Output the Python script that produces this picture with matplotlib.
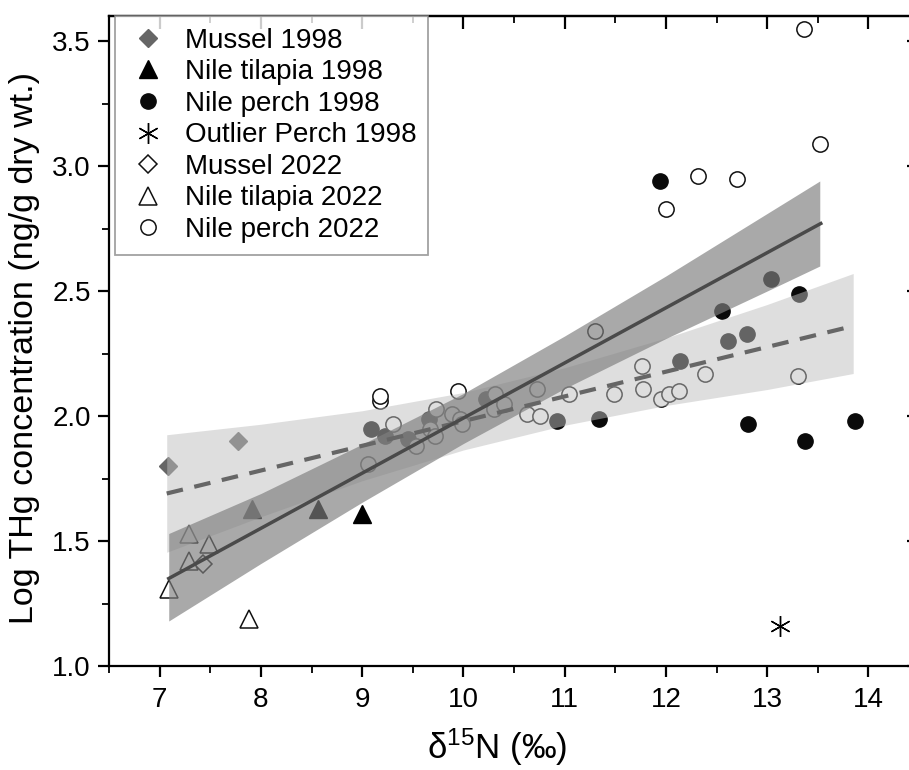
import matplotlib
matplotlib.use("Agg")
import matplotlib.pyplot as plt
from matplotlib.ticker import MultipleLocator

plt.rcParams['font.family'] = ['Liberation Sans', 'DejaVu Sans']
plt.rcParams['mathtext.fontset'] = 'custom'
plt.rcParams['mathtext.rm'] = 'Liberation Sans'
plt.rcParams['mathtext.it'] = 'Liberation Sans:italic'

# --- 1998 samples ---
mussel98_n = [7.08, 7.77]
mussel98_hg = [1.80, 1.90]
tilapia98_n = [7.91, 8.56, 9.00]
tilapia98_hg = [1.63, 1.63, 1.61]
perch98_n = [9.09, 9.23, 9.45, 9.66, 10.22, 10.92, 11.34, 11.94, 12.14, 12.55,
             12.61, 12.80, 13.04, 13.31, 12.81, 13.37, 13.87]
perch98_hg = [1.95, 1.92, 1.91, 1.99, 2.07, 1.98, 1.99, 2.94, 2.22, 2.42,
              2.30, 2.33, 2.55, 2.49, 1.97, 1.90, 1.98]
outlier98_n = [13.13]
outlier98_hg = [1.16]

# --- 2022 samples ---
mussel22_n = [7.43]
mussel22_hg = [1.41]
tilapia22_n = [7.09, 7.29, 7.29, 7.49, 7.88]
tilapia22_hg = [1.31, 1.53, 1.42, 1.49, 1.19]
perch22_n = [9.06, 9.18, 9.18, 9.30, 9.53, 9.67, 9.72, 9.73, 9.89, 9.97, 9.99,
             9.95, 10.30, 10.31, 10.40, 10.63, 10.73, 10.76, 11.04, 11.30, 11.49,
             11.76, 11.77, 11.95, 12.03, 12.13, 12.00, 12.32, 12.39, 12.70, 13.30,
             13.36, 13.52]
perch22_hg = [1.81, 2.06, 2.08, 1.97, 1.88, 1.95, 1.92, 2.03, 2.01, 1.99, 1.97,
              2.10, 2.03, 2.09, 2.05, 2.01, 2.11, 2.00, 2.09, 2.34, 2.09,
              2.20, 2.11, 2.07, 2.09, 2.10, 2.83, 2.96, 2.17, 2.95, 2.16,
              3.55, 3.09]

# --- fitted lines and 95% confidence bands ---
fit22_n = [7.09, 13.53]
fit22_hg = [1.35, 2.77]
band22_n = [7.09, 8, 9, 10, 11, 12, 13, 13.52]
band22_lo = [1.18, 1.41, 1.655, 1.89, 2.11, 2.31, 2.50, 2.60]
band22_hi = [1.53, 1.69, 1.887, 2.09, 2.32, 2.56, 2.81, 2.94]

fit98_n = [7.07, 13.85]
fit98_hg = [1.69, 2.36]
band98_n = [7.07, 8, 9, 10, 11, 12, 13, 13.85]
band98_lo = [1.455, 1.597, 1.741, 1.864, 1.963, 2.042, 2.106, 2.17]
band98_hi = [1.925, 1.967, 2.021, 2.094, 2.193, 2.312, 2.446, 2.57]

fig = plt.figure(figsize=(9.09, 7.70), dpi=100)
ax = fig.add_axes([109 / 909, 104 / 770, 810 / 909, 650 / 770])

ms_circle = 11
ms_tri = 12.5
ms_dia = 9.2
ew = 1.1

ax.plot(mussel98_n, mussel98_hg, 'D', ms=ms_dia, color='#666666', mec='#666666',
        ls='none', label='Mussel 1998', zorder=2)
ax.plot(tilapia98_n, tilapia98_hg, '^', ms=ms_tri, color='black', mec='black',
        ls='none', label='Nile tilapia 1998', zorder=2)
ax.plot(perch98_n, perch98_hg, 'o', ms=ms_circle, color='#0a0a0a', mec='#0a0a0a',
        ls='none', label='Nile perch 1998', zorder=2)
ax.plot(outlier98_n, outlier98_hg, marker=(6, 2, 0), ms=15, color='black', mew=1.0,
        ls='none', label='Outlier Perch 1998', zorder=2)
ax.plot(mussel22_n, mussel22_hg, 'D', ms=ms_dia, mfc='white', mec='#111111', mew=ew,
        ls='none', label='Mussel 2022', zorder=3)
ax.plot(tilapia22_n, tilapia22_hg, '^', ms=ms_tri, mfc='white', mec='#111111', mew=ew,
        ls='none', label='Nile tilapia 2022', zorder=3)
ax.plot(perch22_n, perch22_hg, 'o', ms=ms_circle, mfc='white', mec='#111111', mew=ew,
        ls='none', label='Nile perch 2022', zorder=3)

# confidence bands sit over the points, as translucent grey
ax.fill_between(band98_n, band98_lo, band98_hi, color='#bebebe', alpha=0.5,
                lw=0, zorder=4)
ax.fill_between(band22_n, band22_lo, band22_hi, color='#7f7f7f', alpha=0.67,
                lw=0, zorder=5)

ax.plot(fit98_n, fit98_hg, color='#666666', lw=3, dashes=(4.0, 2.8), zorder=6)
ax.plot(fit22_n, fit22_hg, color='#4a4a4a', lw=2.5, zorder=6)

ax.set_xlim(6.5, 14.5)
ax.set_ylim(1.0, 3.6)
ax.xaxis.set_major_locator(MultipleLocator(1))
ax.xaxis.set_minor_locator(MultipleLocator(0.5))
ax.yaxis.set_major_locator(MultipleLocator(0.5))
ax.yaxis.set_minor_locator(MultipleLocator(0.25))
ax.set_yticks([1.0, 1.5, 2.0, 2.5, 3.0, 3.5])
ax.set_xticks(range(7, 15))

for s in ax.spines.values():
    s.set_linewidth(1.6)
ax.tick_params(which='major', direction='out', length=8, width=1.6,
               labelsize=20, pad=5)
ax.tick_params(which='minor', direction='out', length=5, width=1.3)
ax.tick_params(axis='x', which='major', pad=7)

top = ax.secondary_xaxis('top')
top.xaxis.set_major_locator(MultipleLocator(1))
top.xaxis.set_minor_locator(MultipleLocator(0.5))
top.tick_params(which='major', direction='in', length=9, width=1.6, labeltop=False)
top.tick_params(which='minor', direction='in', length=5, width=1.3)
top.spines['top'].set_linewidth(1.6)

right = ax.secondary_yaxis('right')
right.yaxis.set_major_locator(MultipleLocator(0.5))
right.yaxis.set_minor_locator(MultipleLocator(0.25))
right.tick_params(which='major', direction='in', length=9, width=1.6, labelright=False)
right.tick_params(which='minor', direction='in', length=5, width=1.3)

ax.set_xlabel('δ$^{15}$N (‰)', fontsize=25)
ax.xaxis.set_label_coords(0.479, -0.093)
ax.set_ylabel('Log THg concentration (ng/g dry wt.)', fontsize=24.5)
ax.yaxis.set_label_coords(-0.085, 0.49)

handles, labels = ax.get_legend_handles_labels()
leg = ax.legend(handles, labels, loc='upper left', bbox_to_anchor=(0.0074, 1.0),
                borderaxespad=0, frameon=True, fancybox=False, fontsize=20,
                handlelength=1.55, handletextpad=0.55, borderpad=0.42,
                labelspacing=0.2, numpoints=1)
leg.get_frame().set_edgecolor('#8a8a8a')
leg.get_frame().set_linewidth(1.3)
leg.set_zorder(10)

fig.savefig('out.png', dpi=100)
